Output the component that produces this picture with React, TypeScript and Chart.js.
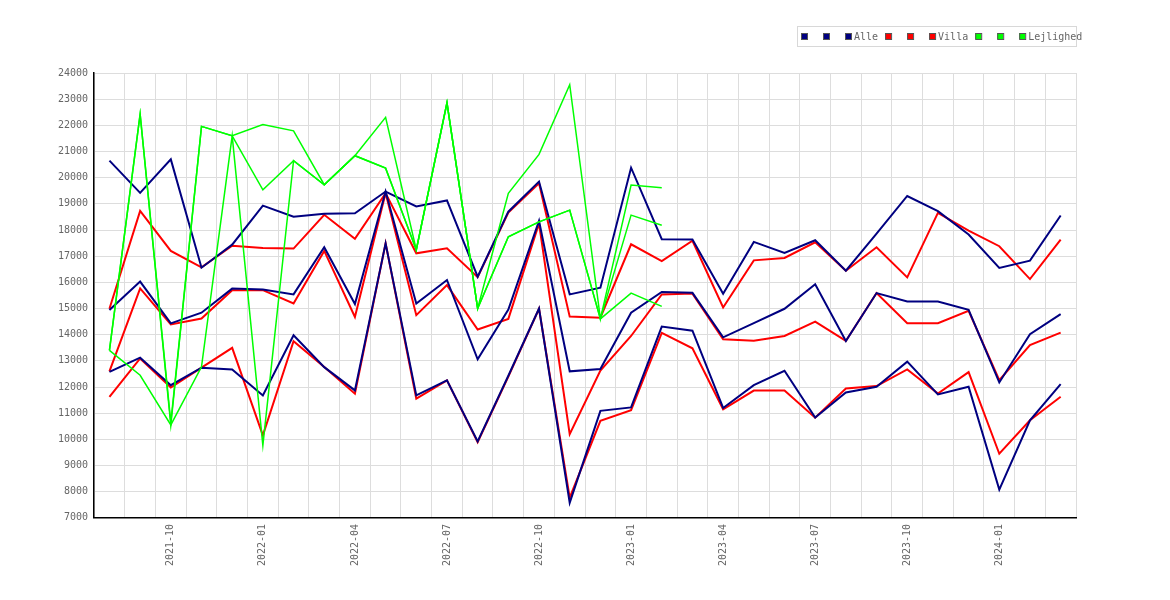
import React, { useEffect, useRef } from 'react';
import { Chart, registerables } from 'chart.js';

Chart.register(...registerables);

const months = [
  '2021-08', '2021-09', '2021-10', '2021-11', '2021-12',
  '2022-01', '2022-02', '2022-03', '2022-04', '2022-05', '2022-06',
  '2022-07', '2022-08', '2022-09', '2022-10', '2022-11', '2022-12',
  '2023-01', '2023-02', '2023-03', '2023-04', '2023-05', '2023-06',
  '2023-07', '2023-08', '2023-09', '2023-10', '2023-11', '2023-12',
  '2024-01', '2024-02', '2024-03',
];

// Alle
const alleHigh = [
  20650, 19420, 20700, 16560, 17440, 18930, 18510, 18620, 18640, 19470, 18900,
  19130, 16215, 18700, 19850, 15540, 15795, 20380, 17650, 17640, 15560, 17545,
  17120, 17610, 16445, 17860, 19300, 18720, 17830, 16550, 16830, 18555,
];
const alleMid = [
  14940, 16030, 14430, 14840, 15760, 15730, 15540, 17340, 15170, 19470, 15190,
  16090, 13060, 14960, 18350, 12600, 12690, 14840, 15630, 15600, 13900, 14440,
  14990, 15930, 13760, 15590, 15270, 15270, 14950, 12175, 14015, 14785,
];
const alleLow = [
  12580, 13120, 12070, 12740, 12670, 11680, 13980, 12760, 11870, 17490, 11680,
  12255, 9920, 12430, 15000, 7580, 11090, 11220, 14310, 14150, 11200, 12070,
  12620, 10830, 11790, 12010, 12970, 11715, 12010, 8080, 10730, 12110,
];

// Villa
const villaHigh = [
  14990, 18730, 17200, 16570, 17400, 17310, 17290, 18580, 17660, 19410, 17110,
  17300, 16200, 18670, 19790, 14690, 14650, 17455, 16815, 17590, 15040, 16840,
  16930, 17530, 16445, 17340, 16190, 18655, 17980, 17380, 16125, 17635,
];
const villaMid = [
  12600, 15770, 14390, 14620, 15700, 15700, 15190, 17200, 14680, 19410, 14745,
  15895, 14200, 14605, 18250, 10200, 12625, 13950, 15540, 15570, 13825, 13770,
  13950, 14500, 13760, 15590, 14440, 14440, 14910, 12265, 13605, 14080,
];
const villaLow = [
  11620, 13090, 11980, 12740, 13495, 10150, 13750, 12765, 11745, 17490, 11555,
  12255, 9895, 12400, 14990, 7770, 10705, 11115, 14070, 13480, 11150, 11865,
  11865, 10830, 11945, 12035, 12675, 11750, 12570, 9450, 10730, 11625,
];

// Lejlighed
const lejHigh = [
  13400, 22430, 10650, 21960, 21600, 22030, 21790, 19730, 20840, 22305, 17240,
  22860, 15000, 19400, 20890, 23550, 14605, 19720, 19615,
];
const lejMid = [
  13400, 22430, 10550, 21960, 21600, 19535, 20650, 19730, 20840, 20365, 17240,
  22860, 15000, 17740, 18310, 18760, 14605, 18570, 18185,
];
const lejLow = [
  13400, 12450, 10550, 12770, 21600, 9770, 20650, 19730, 20840, 20365, 17240,
  22860, 15000, 17740, 18310, 18760, 14605, 15590, 15080,
];

const NAVY = '#000080';
const RED = '#ff0000';
const GREEN = '#00ff00';
const TEXT = '#666666';
const FONT = '"DejaVu Sans Mono", monospace';

// legend in a thin grey frame, top right over the plot
const boxLegend = {
  id: 'boxLegend',
  afterDraw(chart: any) {
    const { ctx, chartArea } = chart;
    const left = Math.round(chartArea.right) - 279;
    const top = Math.round(chartArea.top) - 47;
    ctx.save();
    ctx.strokeStyle = '#d8d8d8';
    ctx.lineWidth = 1;
    ctx.strokeRect(left + 0.5, top + 0.5, 279, 20);
    ctx.font = '10px ' + FONT;
    ctx.textBaseline = 'middle';
    ctx.textAlign = 'left';
    let x = left + 4;
    const cy = top + 10;
    chart.data.datasets.forEach((ds: any) => {
      ctx.fillStyle = ds.borderColor;
      ctx.fillRect(x, cy - 3, 6, 6);
      ctx.strokeStyle = '#555555';
      ctx.strokeRect(x + 0.5, cy - 3 + 0.5, 6, 6);
      const text = ds.label || '';
      const w = text ? ctx.measureText(text).width : 0;
      if (text) {
        ctx.fillStyle = TEXT;
        ctx.fillText(text, x + 9, cy + 1);
      }
      x += 6 + 3 + Math.max(w, 6) + 7;
    });
    ctx.restore();
  },
};

const line = (label: string, data: number[], color: string, order: number, width: number) => ({
  label,
  data,
  borderColor: color,
  backgroundColor: color,
  borderWidth: width,
  pointRadius: 0,
  tension: 0,
  fill: false,
  order,
});

export default function App() {
  const canvasRef = useRef<HTMLCanvasElement>(null);
  const chartRef = useRef<Chart | null>(null);

  useEffect(() => {
    if (!canvasRef.current) return;
    if (chartRef.current) chartRef.current.destroy();

    chartRef.current = new Chart(canvasRef.current, {
      type: 'line',
      data: {
        labels: months,
        datasets: [
          line('', alleHigh, NAVY, 1, 2),
          line('', alleMid, NAVY, 1, 2),
          line('Alle', alleLow, NAVY, 1, 2),
          line('', villaHigh, RED, 2, 2),
          line('', villaMid, RED, 2, 2),
          line('Villa', villaLow, RED, 2, 2),
          line('', lejHigh, GREEN, 0, 1.5),
          line('', lejMid, GREEN, 0, 1.5),
          line('Lejlighed', lejLow, GREEN, 0, 1.5),
        ],
      },
      options: {
        animation: false,
        responsive: true,
        maintainAspectRatio: false,
        layout: {
          padding: { top: 65, left: 44, right: 86, bottom: 20 },
        },
        plugins: {
          legend: { display: false },
          tooltip: { enabled: false },
        },
        scales: {
          x: {
            type: 'category',
            offset: true,
            grid: {
              offset: true,
              color: '#dddddd',
              drawTicks: false,
            },
            border: { color: '#000000', width: 1.5 },
            ticks: {
              autoSkip: false,
              maxRotation: 90,
              minRotation: 90,
              padding: 6,
              color: TEXT,
              font: { family: FONT, size: 10 },
              callback: (_v: any, i: number) => {
                const m = months[i];
                return ['01', '04', '07', '10'].includes(m.slice(5)) ? m : '';
              },
            },
          },
          y: {
            min: 7000,
            max: 24000,
            grid: {
              color: '#dddddd',
              drawTicks: false,
            },
            border: { color: '#000000', width: 1.5 },
            ticks: {
              stepSize: 1000,
              padding: 6,
              color: TEXT,
              font: { family: FONT, size: 10 },
              callback: (v: any) => String(v),
            },
          },
        },
      },
      plugins: [boxLegend],
    });

    return () => {
      if (chartRef.current) {
        chartRef.current.destroy();
        chartRef.current = null;
      }
    };
  }, []);

  return (
    <div style={{ width: '100%', height: 584, position: 'relative' }}>
      <canvas ref={canvasRef}></canvas>
    </div>
  );
}
